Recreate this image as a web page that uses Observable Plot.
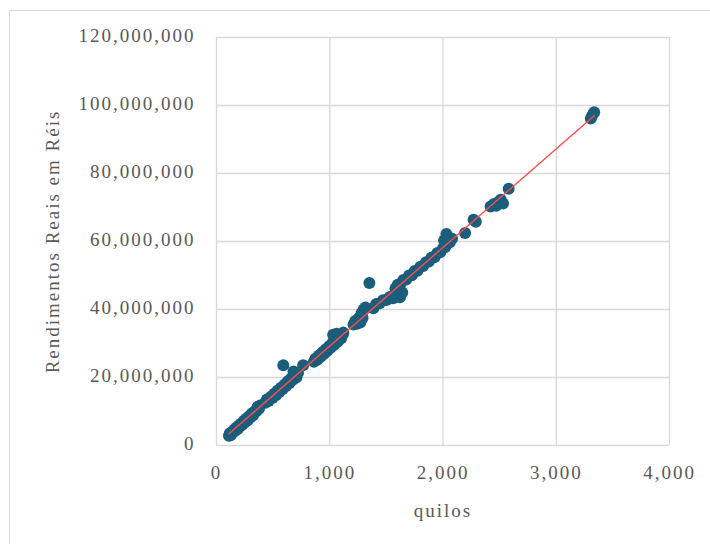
<!DOCTYPE html>
<html>
<head>
<meta charset="utf-8">
<script src="https://cdn.jsdelivr.net/npm/d3@7"></script>
<script src="https://cdn.jsdelivr.net/npm/@observablehq/plot@0.6"></script>
<style>
  html, body { margin: 0; padding: 0; background: #fff; }
  #frame { position: absolute; left: 9px; top: 10px; width: 720px; height: 600px; border: 1px solid #d9d9d9; box-sizing: border-box; }
  #chart { position: absolute; left: 0; top: 0; }
</style>
</head>
<body>
<div id="frame"></div>
<div id="chart"></div>
<script>
// quilos (kg) and rendimentos reais (réis)
const kilos = [
  110, 118, 125, 135, 145, 155, 165, 175, 185, 195, 205, 215, 228, 240, 252, 262, 275, 288, 300, 312, 325, 338, 350, 362, 375, 385,
  430, 445, 460, 478, 495, 510, 525, 540, 555, 570, 585, 600, 615, 630, 645, 660, 675, 690, 705, 720, 680, 590, 765,
  860, 875, 890, 905, 920, 935, 950, 965, 980, 995, 1010, 1025, 1040, 1055, 1070, 1085, 1100, 1115, 1030, 1060, 1120,
  1210, 1225, 1240, 1255, 1270, 1280, 1295, 1300, 1315, 1290, 1350, 1385, 1410, 1440, 1470, 1500, 1530, 1560, 1590, 1620, 1640,
  1580, 1600, 1625, 1650, 1675, 1700, 1725, 1750, 1775, 1800, 1825, 1850, 1875, 1900, 1925, 1950, 1975, 2000, 2020, 2040, 2010, 2060, 2080, 2030,
  2195, 2270, 2290, 2420, 2450, 2470, 2490, 2510, 2530, 2580, 3305, 3320, 3335
];
const reis = [
  2900000, 3600000, 3000000, 3900000, 3800000, 4600000, 4300000, 5200000, 4800000, 5800000, 5500000, 6400000, 6100000, 7200000, 6800000, 7900000, 7400000, 8600000, 8300000, 9400000, 9000000, 10100000, 10000000, 11300000, 10800000, 11800000,
  12600000, 13500000, 13100000, 14300000, 14000000, 15200000, 14800000, 16200000, 15700000, 17000000, 16600000, 17900000, 17500000, 18900000, 18400000, 19800000, 19300000, 20500000, 20000000, 21300000, 21800000, 23600000, 23600000,
  24600000, 25600000, 25200000, 26500000, 26100000, 27400000, 27000000, 28300000, 27900000, 29200000, 28800000, 30200000, 29600000, 31000000, 30500000, 31900000, 31500000, 32700000, 32600000, 32900000, 33200000,
  35600000, 36600000, 35800000, 37400000, 36200000, 38800000, 39600000, 40000000, 40600000, 37500000, 47800000, 40400000, 41600000, 41800000, 42700000, 42800000, 43700000, 43300000, 44500000, 43600000, 45000000,
  46200000, 47300000, 47600000, 48700000, 48800000, 50000000, 50100000, 51300000, 51400000, 52600000, 52800000, 53900000, 54100000, 55300000, 55400000, 56600000, 56800000, 58000000, 58400000, 59500000, 60300000, 59800000, 60800000, 62200000,
  62500000, 66400000, 65800000, 70300000, 71000000, 70500000, 71600000, 72300000, 71200000, 75500000, 96200000, 97200000, 98000000
];
const xTicks = [0, 1000, 2000, 3000, 4000];
const yTicks = [0, 20000000, 40000000, 60000000, 80000000, 100000000, 120000000];
const xLabel = "quilos";
const yLabel = "Rendimentos Reais em Réis";

const data = kilos.map((k, i) => ({kilos: k, reis: reis[i]}));
const fmt = d3.format(",");

const chart = Plot.plot({
  width: 710,
  height: 544,
  marginLeft: 216,
  marginRight: 41,
  marginTop: 37,
  marginBottom: 99,
  style: "font-family: 'Liberation Serif', 'Times New Roman', serif; font-size: 19px; letter-spacing: 2px; color: #595959; background: transparent; overflow: visible;",
  x: {domain: [0, 4000]},
  y: {domain: [0, 120000000]},
  marks: [
    Plot.gridX(xTicks, {stroke: "#d9d9d9", strokeOpacity: 1, strokeWidth: 1.3}),
    Plot.gridY(yTicks, {stroke: "#d9d9d9", strokeOpacity: 1, strokeWidth: 1.3}),
    Plot.axisX(xTicks, {tickSize: 0, tickPadding: 20, tickFormat: fmt, label: xLabel, labelArrow: "none", labelAnchor: "center", labelOffset: 71, fill: "#595959"}),
    Plot.axisY(yTicks, {tickSize: 0, tickPadding: 21, tickFormat: fmt, label: yLabel, labelArrow: "none", labelAnchor: "center", labelOffset: 171, fill: "#595959", dy: -2}),
    Plot.dot(data, {x: "kilos", y: "reis", r: 6, fill: "#1b5e7b", stroke: "none"}),
    Plot.linearRegressionY(data, {x: "kilos", y: "reis", ci: 0, stroke: "#ff4a4a", strokeWidth: 1.4})
  ]
});
document.getElementById("chart").appendChild(chart);
</script>
</body>
</html>
